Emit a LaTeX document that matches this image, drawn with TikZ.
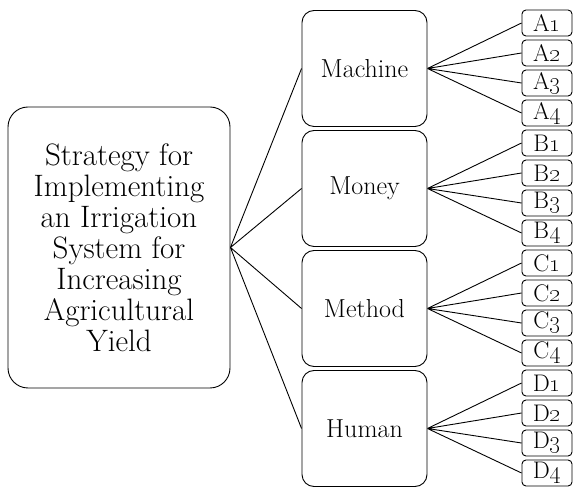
\documentclass[tikz,border=0pt]{standalone}
\usepackage{tikz}
\usetikzlibrary{positioning}

\begin{document}
\begin{tikzpicture}[x=1pt,y=1pt,line width=0.9pt,node distance=3.1pt,
    root/.style={draw,rounded corners=20pt,minimum width=222pt,minimum height=281pt,align=center,
        font=\fontsize{31}{31}\selectfont},
    base/.style={draw,rounded corners=12pt,minimum width=125pt,minimum height=116pt,
        font=\fontsize{26}{26}\selectfont},
    leaf/.style={draw,rounded corners=4pt,minimum width=50pt,minimum height=26pt,inner sep=0pt,
        font=\fontsize{24}{24}\selectfont}]

    \useasboundingbox (0,0) rectangle (573,490);

    \node[root] (0) at (119,242.5)
    {
        Strategy for\\
        Implementing\\
        an Irrigation\\
        System for\\
        Increasing\\
        Agricultural\\
        Yield
    };

    \node[base] (1) at (364.5,421.5) {Machine};
    \node[base] (2) at (364.5,301.5) {Money};
    \node[base] (3) at (364.5,181.5) {Method};
    \node[base] (4) at (364.5,61.5) {Human};

    \node[leaf] (A1) at (547,467) {A\oldstylenums{1}};
    \node[leaf, below=of A1] (A2) {A\oldstylenums{2}};
    \node[leaf, below=of A2] (A3) {A\oldstylenums{3}};
    \node[leaf, below=of A3] (A4) {A\oldstylenums{4}};
    \node[leaf, below=of A4] (B1) {B\oldstylenums{1}};
    \node[leaf, below=of B1] (B2) {B\oldstylenums{2}};
    \node[leaf, below=of B2] (B3) {B\oldstylenums{3}};
    \node[leaf, below=of B3] (B4) {B\oldstylenums{4}};
    \node[leaf, below=of B4] (C1) {C\oldstylenums{1}};
    \node[leaf, below=of C1] (C2) {C\oldstylenums{2}};
    \node[leaf, below=of C2] (C3) {C\oldstylenums{3}};
    \node[leaf, below=of C3] (C4) {C\oldstylenums{4}};
    \node[leaf, below=of C4] (D1) {D\oldstylenums{1}};
    \node[leaf, below=of D1] (D2) {D\oldstylenums{2}};
    \node[leaf, below=of D2] (D3) {D\oldstylenums{3}};
    \node[leaf, below=of D3] (D4) {D\oldstylenums{4}};

    \path[draw]
    {
        (0.east) -- (1.west)
        (0.east) -- (2.west)
        (0.east) -- (3.west)
        (0.east) -- (4.west)
        (1.east) -- (A1.west)
        (1.east) -- (A2.west)
        (1.east) -- (A3.west)
        (1.east) -- (A4.west)
        (2.east) -- (B1.west)
        (2.east) -- (B2.west)
        (2.east) -- (B3.west)
        (2.east) -- (B4.west)
        (3.east) -- (C1.west)
        (3.east) -- (C2.west)
        (3.east) -- (C3.west)
        (3.east) -- (C4.west)
        (4.east) -- (D1.west)
        (4.east) -- (D2.west)
        (4.east) -- (D3.west)
        (4.east) -- (D4.west)
    };
\end{tikzpicture}
\end{document}
